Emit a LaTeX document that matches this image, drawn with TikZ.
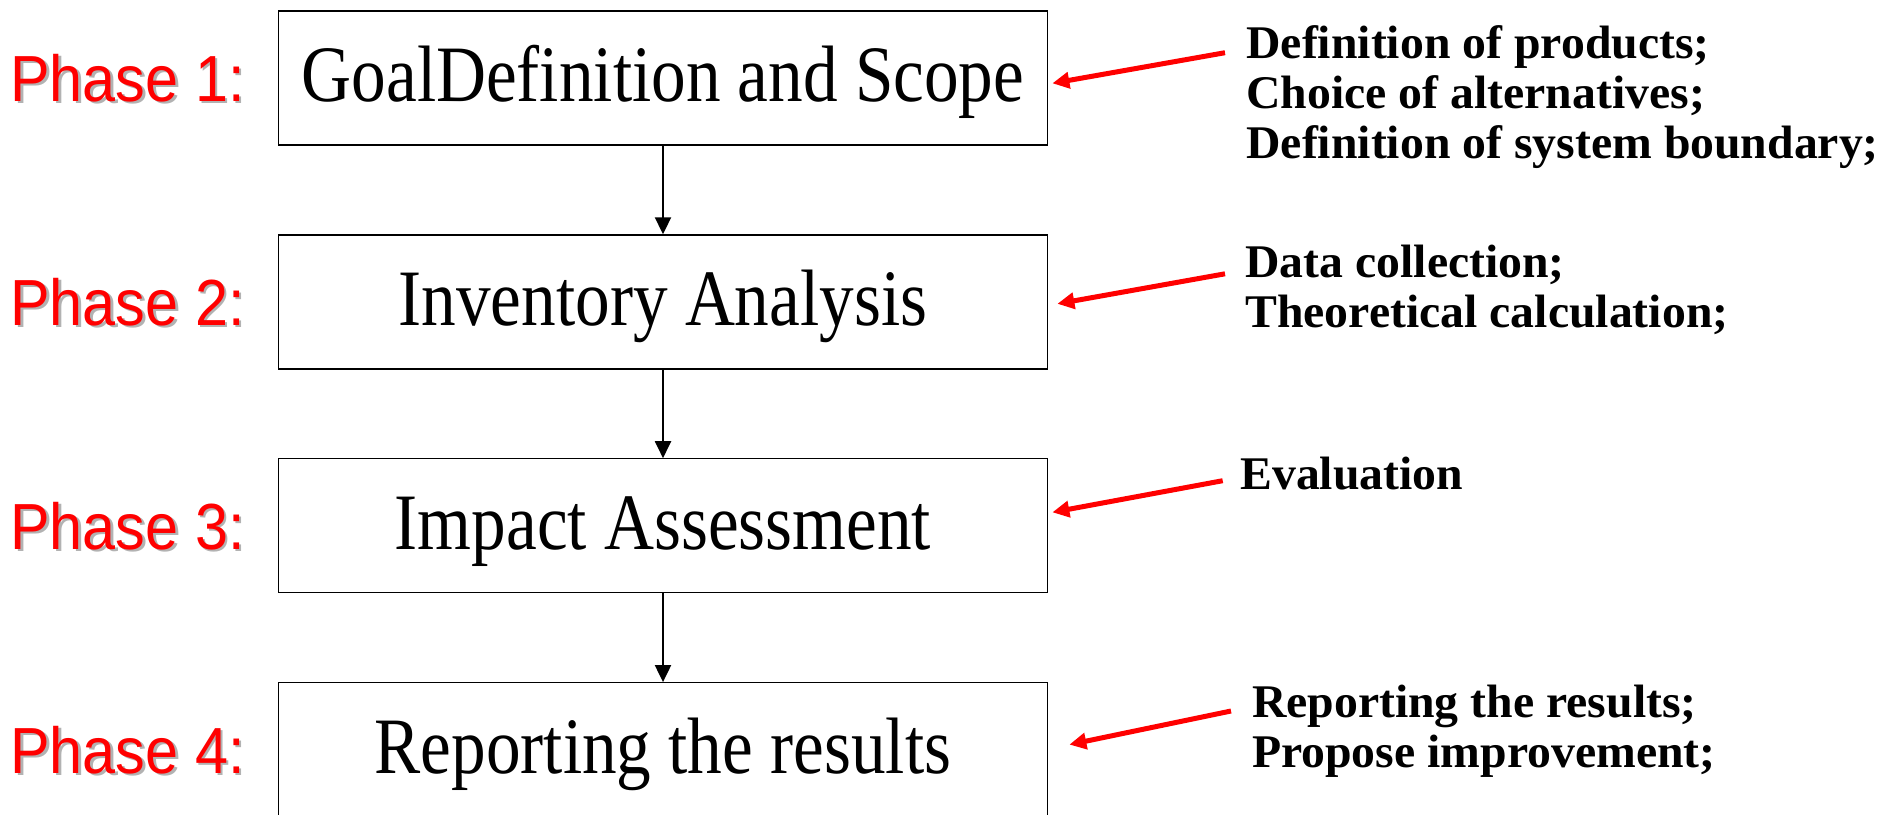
\documentclass[tikz,border=0pt]{standalone}
\usepackage{fontspec}
\setmainfont{Liberation Serif}
\newfontfamily\phasefont[FakeStretch=0.91]{Liberation Sans}
\newfontfamily\stagefont[FakeStretch=0.865]{Liberation Serif}
\newfontfamily\notefont[FakeStretch=1.02]{Liberation Serif}
\usetikzlibrary{arrows.meta,positioning}
\newcommand{\shadowed}[1]{\rlap{\smash{\raisebox{-1.3pt}{\kern1.3pt\textcolor{black!30}{#1}}}}#1}

\begin{document}
\begin{tikzpicture}[stage/.style={draw,line width=0.6pt,minimum width=384.35pt,minimum height=67pt,inner sep=0pt,text height=26.5pt,text depth=3pt,font=\stagefont\fontsize{40pt}{44pt}\selectfont},
  phase/.style={text=red,inner sep=0pt,font=\phasefont\fontsize{32.6pt}{36pt}\selectfont},
  note/.style={anchor=north west,inner sep=0pt,align=left,font=\notefont\bfseries\fontsize{23.4pt}{25pt}\selectfont},
  down/.style={-{Triangle[length=8.5pt,width=8pt]},line width=1pt},
  hint/.style={red,line width=2.5pt,-{Triangle[length=8.5pt,width=8pt]}},
  node distance = 111.95pt]
          \useasboundingbox (0,0) rectangle (941.5pt,-407pt);
          \node[stage](1) at (331.5pt,-39pt) {GoalDefinition and Scope};
          \node[stage](2) [below of = 1] {Inventory Analysis};
          \node[stage](3) [below of = 2] {Impact Assessment};
          \node[stage](4) [below of = 3] {Reporting the results};
          \node[phase](p1) [left of = 1, node distance = 267.75pt] {\shadowed{Phase 1:}};
          \node[phase](p2) [left of = 2, node distance = 267.75pt] {\shadowed{Phase 2:}};
          \node[phase](p3) [left of = 3, node distance = 267.75pt] {\shadowed{Phase 3:}};
          \node[phase](p4) [left of = 4, node distance = 267.75pt] {\shadowed{Phase 4:}};
          \node[note](n1) at (623pt,-12.5pt) {Definition of products;\\Choice of alternatives;\\Definition of system boundary;};
          \node[note](n2) at (622.5pt,-122.5pt) {Data collection;\\Theoretical calculation;};
          \node[note](n3) at (620pt,-228.3pt) {Evaluation};
          \node[note](n4) at (625.8pt,-342.5pt) {Reporting the results;\\Propose improvement;};
          \coordinate (e1) at (612.5pt,-26.35pt);
          \coordinate (e2) at (612.5pt,-136.9pt);
          \coordinate (e3) at (611.35pt,-240.35pt);
          \coordinate (e4) at (615.5pt,-355.5pt);
          \draw[down]
            (1) edge (2)
            (2) edge (3)
            (3) edge (4)
            ;
          \draw[hint] (e1) -- ([shift={(2.2pt,-2.65pt)}]1.east);
          \draw[hint] (e2) -- ([shift={(4.7pt,-0.95pt)}]2.east);
          \draw[hint] (e3) -- ([shift={(2.2pt,6.75pt)}]3.east);
          \draw[hint] (e4) -- ([shift={(10.7pt,2.55pt)}]4.east);
        \end{tikzpicture}
\end{document}
